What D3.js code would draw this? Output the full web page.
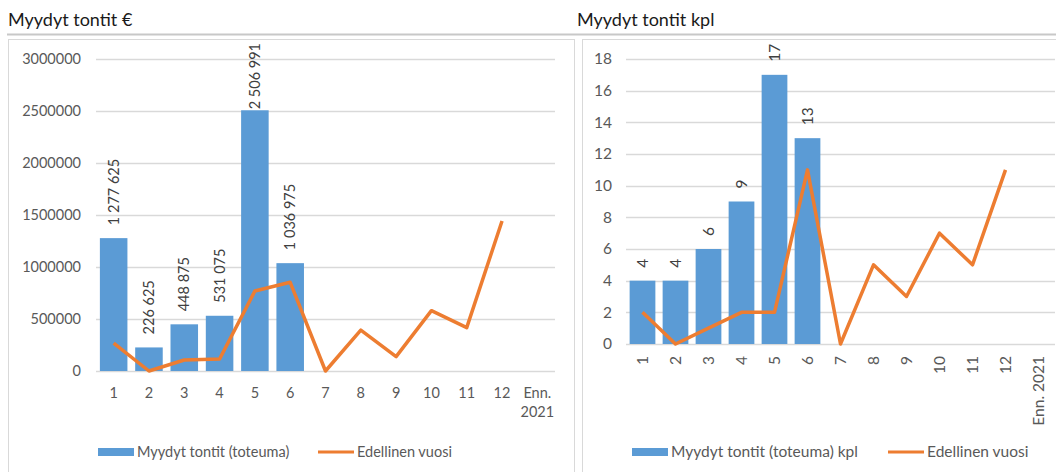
<!DOCTYPE html>
<html>
<head>
<meta charset="utf-8">
<script src="https://cdn.jsdelivr.net/npm/d3@7"></script>
<style>
  body { margin: 0; background: #fff; }
  svg { display: block; font-family: Lato, "Open Sans", sans-serif; }
</style>
</head>
<body>
<svg id="chart" width="1056" height="472"></svg>
<script>
// categories (months + forecast)
var months = ["1","2","3","4","5","6","7","8","9","10","11","12","Enn. 2021"];

// euro chart
var euroBars = [1277625, 226625, 448875, 531075, 2506991, 1036975];
var euroPrev = [269000, 0, 106000, 115000, 769000, 853000, 0, 394000, 138000, 580000, 417000, 1442000];
var euroTicks = [0, 500000, 1000000, 1500000, 2000000, 2500000, 3000000];

// count chart
var kplBars = [4, 4, 6, 9, 17, 13];
var kplPrev = [2, 0, 1, 2, 2, 11, 0, 5, 3, 7, 5, 11];
var kplTicks = [0, 2, 4, 6, 8, 10, 12, 14, 16, 18];

var blue = "#5b9bd5", orange = "#ed7d31", grid = "#d9d9d9", txt = "#595959";

var svg = d3.select("#chart");

// frame: separator line under titles + boxes
svg.append("line").attr("x1", 7).attr("x2", 1056).attr("y1", 34.5).attr("y2", 34.5)
   .attr("stroke", "#c8c8c8").attr("stroke-width", 2);
svg.append("rect").attr("x", 8.5).attr("y", 39.5).attr("width", 566).attr("height", 440)
   .attr("fill", "none").attr("stroke", grid);
svg.append("rect").attr("x", 582.5).attr("y", 39.5).attr("width", 480).attr("height", 440)
   .attr("fill", "none").attr("stroke", grid);

function fmtSpace(v) {
  return d3.format(",")(v).replace(/,/g, " ");
}

function drawChart(opt) {
  var g = svg.append("g");
  var fs = opt.fontSize + "px";

  g.append("text").attr("x", opt.titleX).attr("y", 26)
    .attr("fill", "#1a1a1a").style("font-size", "18px").text(opt.title);

  var x = d3.scaleBand().domain(months).range([opt.left, opt.right]).paddingInner(0.22).paddingOuter(0.11);
  var y = d3.scaleLinear().domain([0, opt.max]).range([opt.bottom, opt.top]);

  // gridlines
  g.append("g").selectAll("line").data(opt.ticks).join("line")
    .attr("x1", opt.left).attr("x2", opt.right)
    .attr("y1", function(d) { return Math.round(y(d)) + 0.5; })
    .attr("y2", function(d) { return Math.round(y(d)) + 0.5; })
    .attr("stroke", grid).attr("stroke-width", 1.3);

  // y axis labels
  var yAxis = d3.axisLeft(y).tickValues(opt.ticks).tickSize(0).tickPadding(0)
    .tickFormat(function(d) { return String(d); });
  var ya = g.append("g").attr("transform", "translate(" + opt.yLabelX + ",0)").call(yAxis);
  ya.select(".domain").remove();
  ya.selectAll("text").attr("fill", txt).style("font-size", fs).style("font-family", "Lato, 'Open Sans', sans-serif");

  // bars
  g.append("g").selectAll("rect").data(opt.bars).join("rect")
    .attr("x", function(d, i) { return x(months[i]); })
    .attr("y", function(d) { return y(d); })
    .attr("width", x.bandwidth())
    .attr("height", function(d) { return y(0) - y(d); })
    .attr("fill", blue);

  // bar value labels (rotated), kept inside the plot area
  g.append("g").selectAll("text").data(opt.bars).join("text")
    .attr("transform", function(d, i) {
      var start = y(d) - 13;
      var w = this.getComputedTextLength ? 0 : 0;
      return "translate(" + (x(months[i]) + x.bandwidth() / 2 + 5) + "," + start + ") rotate(-90)";
    })
    .attr("fill", "#404040").style("font-size", fs)
    .text(function(d) { return fmtSpace(d); })
    .each(function(d, i) {
      // shift down if the label would stick out above the plot
      var len = this.getComputedTextLength();
      var start = y(d) - 13;
      if (start - len < opt.top - 16) start = opt.top - 16 + len;
      d3.select(this).attr("transform",
        "translate(" + (x(months[i]) + x.bandwidth() / 2 + 5) + "," + start + ") rotate(-90)");
    });

  // previous year line
  var line = d3.line()
    .x(function(d, i) { return x(months[i]) + x.bandwidth() / 2; })
    .y(function(d) { return y(d); });
  g.append("path").datum(opt.prev).attr("d", line)
    .attr("fill", "none").attr("stroke", orange).attr("stroke-width", 3.5)
    .attr("stroke-linejoin", "round");

  // x labels
  var xl = g.append("g");
  months.forEach(function(m, i) {
    var cx = x(m) + x.bandwidth() / 2;
    if (opt.rotateX) {
      xl.append("text")
        .attr("transform", "translate(" + (cx + 5) + "," + (opt.bottom + 12) + ") rotate(-90)")
        .attr("text-anchor", "end").attr("fill", txt).style("font-size", fs).text(m);
    } else {
      var parts = m.split(" ");
      parts.forEach(function(p, j) {
        xl.append("text").attr("x", cx).attr("y", opt.bottom + 27 + j * 19)
          .attr("text-anchor", "middle").attr("fill", txt).style("font-size", fs).text(p);
      });
    }
  });

  // legend
  var lg = g.append("g");
  lg.append("rect").attr("x", opt.legX).attr("y", 448).attr("width", 36).attr("height", 8).attr("fill", blue);
  lg.append("text").attr("x", opt.legX + 39).attr("y", 457).attr("fill", txt).style("font-size", fs).text(opt.barName);
  lg.append("line").attr("x1", opt.legX2).attr("x2", opt.legX2 + 36).attr("y1", 452).attr("y2", 452)
    .attr("stroke", orange).attr("stroke-width", 3);
  lg.append("text").attr("x", opt.legX2 + 39).attr("y", 457).attr("fill", txt).style("font-size", fs).text("Edellinen vuosi");
}

drawChart({
  title: "Myydyt tontit €", titleX: 8, fontSize: 14.5,
  left: 96, right: 555, top: 59, bottom: 371, max: 3000000,
  ticks: euroTicks, yLabelX: 81, bars: euroBars, prev: euroPrev,
  rotateX: false, legX: 98, legX2: 318, barName: "Myydyt tontit (toteuma)"
});

drawChart({
  title: "Myydyt tontit kpl", titleX: 577, fontSize: 15.5,
  left: 626, right: 1055, top: 59, bottom: 344, max: 18,
  ticks: kplTicks, yLabelX: 612, bars: kplBars, prev: kplPrev,
  rotateX: true, legX: 632, legX2: 888, barName: "Myydyt tontit (toteuma) kpl"
});
</script>
</body>
</html>
